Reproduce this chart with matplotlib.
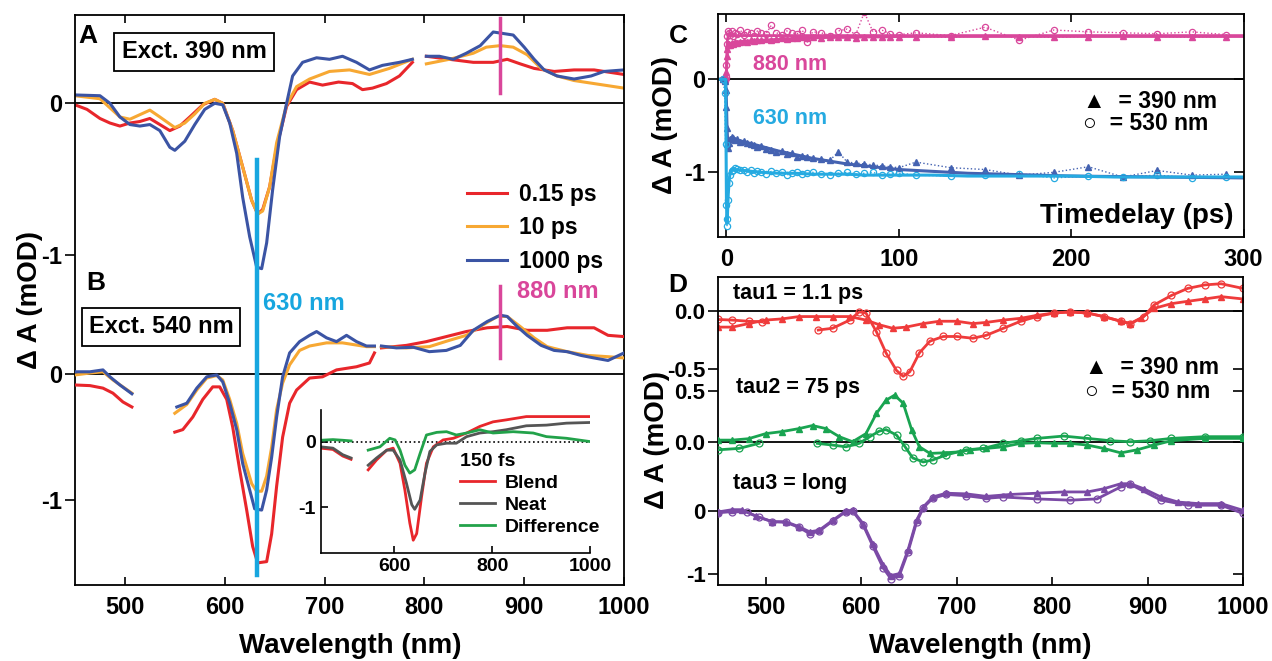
import numpy as np
import matplotlib.pyplot as plt

nan = np.nan

# ---------------- panel A: Exct. 390 nm ----------------
a_wl_red = [450, 462, 475, 485, 495, 505, 515, 525, 535, 545, 555, 565, 578, 590, 598, 608, 618, 627, 633, 638,
            645, 652, 662, 672, 685, 698, 714, 728, 738, 748, 762, 775, 788, nan, 802, 825, 849, 869, 883, 896,
            910, 930, 950, 970, 1000]
a_red = [-0.01, -0.04, -0.10, -0.13, -0.15, -0.13, -0.12, -0.10, -0.14, -0.18, -0.15, -0.09, -0.01, 0.026, 0.0,
         -0.18, -0.42, -0.64, -0.73, -0.70, -0.55, -0.29, -0.02, 0.09, 0.14, 0.12, 0.14, 0.13, 0.09, 0.10,
         0.13, 0.18, 0.27, nan, 0.31, 0.29, 0.27, 0.27, 0.29, 0.26, 0.23, 0.21, 0.22, 0.22, 0.19]
a_wl_orange = [450, 475, 495, 505, 525, 535, 550, 560, 570, 580, 590, 598, 608, 618, 627, 633, 638, 645, 652, 662,
               672, 685, 705, 725, 745, 765, 788, nan, 802, 825, 849, 862, 876, 889, 903, 917, 933, 950, 970, 1000]
a_orange = [0.05, 0.03, -0.09, -0.105, -0.045, -0.09, -0.16, -0.13, -0.07, 0.0, 0.026, 0.0, -0.18, -0.42, -0.64,
            -0.73, -0.71, -0.55, -0.26, -0.01, 0.11, 0.16, 0.21, 0.22, 0.19, 0.23, 0.29, nan, 0.26, 0.29,
            0.33, 0.37, 0.38, 0.37, 0.32, 0.23, 0.18, 0.15, 0.13, 0.10]
a_wl_blue = [450, 475, 485, 495, 505, 515, 525, 535, 545, 550, 560, 570, 580, 590, 598, 605, 612, 618, 625, 632,
             637, 642, 648, 655, 662, 668, 678, 692, 705, 718, 732, 745, 758, 775, 788, nan, 802, 815, 829, 842,
             856, 869, 879, 889, 900, 910, 920, 933, 950, 967, 980, 1000]
a_blue = [0.055, 0.05, 0.0, -0.09, -0.14, -0.15, -0.14, -0.18, -0.29, -0.31, -0.25, -0.14, -0.04, 0.0, -0.01,
          -0.13, -0.33, -0.62, -0.88, -1.08, -1.09, -0.92, -0.57, -0.22, 0.0, 0.18, 0.27, 0.30, 0.29, 0.31,
          0.27, 0.22, 0.25, 0.27, 0.29, nan, 0.31, 0.31, 0.29, 0.33, 0.38, 0.47, 0.46, 0.45, 0.37, 0.29,
          0.22, 0.18, 0.16, 0.18, 0.21, 0.22]

# ---------------- panel B: Exct. 540 nm ----------------
b_wl_red = [450, 465, 478, 488, 498, 507, nan, 550, 558, 568, 578, 588, 595, 602, 608, 615, 622, 628, 633, 642,
            647, 652, 658, 665, 672, 685, 698, 712, 732, 745, 750, nan, 757, 782, 802, 822, 842, 863, 883, 903,
            923, 943, 970, 984, 1000]
b_red = [-0.085, -0.09, -0.11, -0.15, -0.22, -0.26, nan, -0.46, -0.44, -0.34, -0.2, -0.1, -0.1, -0.2, -0.42,
         -0.76, -1.08, -1.37, -1.50, -1.49, -1.27, -0.89, -0.50, -0.23, -0.125, -0.03, -0.02, 0.035, 0.06,
         0.09, 0.17, nan, 0.21, 0.23, 0.26, 0.30, 0.34, 0.37, 0.38, 0.35, 0.35, 0.37, 0.37, 0.31, 0.30]
b_wl_orange = [450, 465, 478, 488, 507, nan, 550, 562, 572, 582, 592, 598, 605, 612, 618, 627, 632, 637, 642, 647,
               652, 658, 665, 675, 685, 702, 718, 742, 750, nan, 757, 782, 805, 825, 842, 856, 873, 883, 896, 910,
               923, 943, 964, 984, 1000]
b_orange = [-0.005, 0.01, 0.02, -0.045, -0.15, nan, -0.31, -0.24, -0.125, -0.03, -0.01, -0.045, -0.2, -0.39,
            -0.63, -0.87, -0.93, -0.93, -0.81, -0.58, -0.28, -0.07, 0.075, 0.19, 0.225, 0.25, 0.25, 0.22, 0.22,
            nan, 0.22, 0.21, 0.22, 0.27, 0.31, 0.38, 0.46, 0.46, 0.38, 0.29, 0.22, 0.18, 0.15, 0.14, 0.13]
b_wl_blue = [450, 465, 478, 485, 495, 507, nan, 552, 562, 572, 582, 592, 598, 605, 612, 618, 625, 630, 637, 642,
             647, 652, 658, 665, 675, 685, 692, 702, 712, 722, 732, 742, 750, nan, 757, 772, 789, 805, 822, 836,
             849, 863, 876, 883, 893, 903, 917, 930, 943, 957, 970, 984, 1000]
b_blue = [0.02, 0.02, 0.035, -0.02, -0.085, -0.155, nan, -0.26, -0.23, -0.11, -0.02, -0.005, -0.06, -0.23, -0.44,
          -0.71, -0.92, -1.07, -1.08, -0.92, -0.66, -0.34, -0.02, 0.17, 0.26, 0.31, 0.34, 0.29, 0.26, 0.31,
          0.26, 0.225, 0.225, nan, 0.225, 0.21, 0.215, 0.18, 0.19, 0.23, 0.35, 0.42, 0.47, 0.46, 0.38, 0.31,
          0.23, 0.19, 0.18, 0.15, 0.13, 0.11, 0.17]

# ---------------- inset: 150 fs ----------------
in_wl_blend = [450, 475, 495, 512, nan, 547, 564, 585, 598, 612, 622, 632, 639, 646, 656, 666, 680, 700, 721, 748,
               775, 802, 829, 870, 911, 952, 1000]
in_blend = [-0.10, -0.12, -0.22, -0.27, nan, -0.43, -0.28, -0.13, -0.10, -0.33, -0.74, -1.24, -1.50, -1.40,
            -0.84, -0.33, -0.08, 0.025, 0.05, 0.13, 0.23, 0.30, 0.33, 0.38, 0.38, 0.38, 0.38]
in_wl_neat = [450, 475, 495, 512, nan, 547, 564, 585, 598, 612, 625, 636, 642, 653, 663, 673, 687, 707, 727, 748,
              775, 802, 829, 870, 911, 952, 1000]
in_neat = [-0.08, -0.10, -0.20, -0.25, nan, -0.36, -0.25, -0.13, -0.13, -0.28, -0.63, -0.96, -1.03, -0.89,
           -0.48, -0.15, -0.05, -0.025, -0.025, 0.075, 0.13, 0.15, 0.18, 0.24, 0.25, 0.28, 0.29]
in_wl_diff = [450, 475, 495, 512, nan, 547, 571, 591, 602, 612, 622, 632, 642, 653, 666, 687, 707, 727, 748, 775,
              802, 843, 884, 911, 952, 1000]
in_diff = [0.02, 0.03, 0.02, 0.01, nan, -0.13, -0.08, 0.05, 0.025, -0.13, -0.36, -0.48, -0.43, -0.18, 0.10,
           0.14, 0.15, 0.10, 0.13, 0.18, 0.13, 0.15, 0.13, 0.075, 0.05, 0.0]

# ---------------- panel C: kinetics ----------------
t_c = [-2, -1, -0.5, 0, 0.3, 0.6, 1, 1.5, 2, 3, 4, 5, 6, 8, 10, 12, 14, 16, 18, 20,
       23, 26, 29, 32, 35, 38, 41, 44, 47, 50, 55, 60, 65, 70, 75, 80, 85, 90, 95, 100,
       110, 130, 150, 170, 190, 210, 230, 250, 270, 290]
c_880_390 = [0.0, 0.01, 0.03, 0.08, 0.25, 0.33, 0.37, 0.38, 0.37, 0.39, 0.38, 0.40, 0.39, 0.40, 0.41, 0.40,
             0.42, 0.41, 0.42, 0.42, 0.43, 0.42, 0.43, 0.44, 0.43, 0.44, 0.44, 0.45, 0.44, 0.45, 0.44, 0.45,
             0.46, 0.45, 0.44, 0.46, 0.45, 0.46, 0.45, 0.46, 0.46, 0.45, 0.47, 0.46, 0.45, 0.46, 0.47, 0.46,
             0.45, 0.46]
c_880_530 = [0.0, -0.02, 0.02, 0.15, 0.38, 0.47, 0.52, 0.50, 0.48, 0.52, 0.47, 0.50, 0.49, 0.53, 0.48, 0.51,
             0.50, 0.47, 0.52, 0.50, 0.49, 0.58, 0.50, 0.48, 0.52, 0.50, 0.49, 0.53, 0.40, 0.51, 0.50, 0.47,
             0.52, 0.54, 0.48, 0.72, 0.51, 0.53, 0.49, 0.48, 0.50, 0.47, 0.56, 0.42, 0.53, 0.51, 0.50, 0.49,
             0.51, 0.48]
c_630_390 = [0.0, -0.02, -0.12, -0.30, -0.52, -0.70, -0.74, -0.68, -0.64, -0.62, -0.63, -0.65, -0.64, -0.67,
             -0.66, -0.69, -0.70, -0.71, -0.73, -0.72, -0.75, -0.76, -0.78, -0.77, -0.80, -0.79, -0.83, -0.82,
             -0.84, -0.85, -0.86, -0.87, -0.78, -0.89, -0.90, -0.91, -0.92, -0.93, -0.94, -0.95, -0.89, -0.95,
             -0.97, -1.03, -1.00, -0.94, -1.05, -0.98, -1.03, -1.02]
c_630_530 = [0.0, -0.15, -0.70, -1.35, -1.58, -1.50, -1.30, -1.12, -1.03, -0.99, -0.97, -0.95, -0.96, -0.97,
             -0.98, -1.00, -0.98, -1.01, -0.99, -1.00, -1.02, -0.99, -1.01, -1.00, -1.03, -1.01, -1.00, -1.02,
             -1.01, -1.00, -1.02, -1.03, -1.01, -1.00, -1.02, -1.01, -1.00, -1.03, -1.02, -1.01, -1.03, -1.04,
             -1.03, -1.02, -1.06, -1.04, -1.05, -1.03, -1.06, -1.05]
t_fit = [-4.9, -0.5, 0, 0.3, 0.6, 1, 1.5, 2, 3, 5, 10, 20, 30, 40, 50, 60, 70, 80, 90, 100,
         120, 140, 160, 180, 200, 225, 250, 275, 300]
fit_880_390 = [0, 0, 0.05, 0.2, 0.3, 0.35, 0.37, 0.38, 0.39, 0.40, 0.41, 0.42, 0.43, 0.44, 0.445, 0.45, 0.45,
               0.455, 0.455, 0.46, 0.46, 0.46, 0.46, 0.46, 0.46, 0.46, 0.46, 0.46, 0.46]
fit_880_530 = [0, 0, 0.1, 0.33, 0.43, 0.46, 0.47, 0.47, 0.47, 0.47, 0.47, 0.47, 0.47, 0.47, 0.47, 0.47, 0.47,
               0.47, 0.47, 0.47, 0.47, 0.47, 0.47, 0.47, 0.47, 0.47, 0.47, 0.47, 0.47]
fit_630_390 = [0, 0, -0.25, -0.5, -0.63, -0.66, -0.65, -0.64, -0.64, -0.65, -0.67, -0.72, -0.77, -0.81, -0.85,
               -0.88, -0.91, -0.93, -0.95, -0.97, -0.99, -1.01, -1.02, -1.03, -1.04, -1.045, -1.05, -1.055, -1.06]
fit_630_530 = [0, 0, -1.3, -1.55, -1.45, -1.25, -1.1, -1.02, -0.98, -0.97, -0.98, -1.0, -1.01, -1.01, -1.02,
               -1.02, -1.02, -1.03, -1.03, -1.03, -1.03, -1.04, -1.04, -1.04, -1.04, -1.05, -1.05, -1.05, -1.05]

# ---------------- panel D: decay associated spectra ----------------
d1_wl_390 = [450, 465, 482, 500, 517, 535, 553, 570, 588, 605, 619, 633, 647, 665, 682, 700, 717, 731, 749, 767,
             784, 802, 819, 837, 854, 872, 882, 893, 907, 925, 942, 960, 977, 1000]
d1_390 = [-0.14, -0.14, -0.11, -0.08, -0.07, -0.05, -0.05, -0.05, -0.05, -0.08, -0.12, -0.15, -0.14, -0.11,
          -0.09, -0.09, -0.11, -0.10, -0.08, -0.065, -0.04, -0.02, -0.01, -0.02, -0.05, -0.09, -0.11, -0.065,
          0.02, 0.06, 0.08, 0.10, 0.12, 0.10]
d1_wl_530 = [450, 465, 482, 496, nan, 555, 570, 588, 598, 605, 616, 626, 637, 644, 651, 661, 672, 686, 700, 717,
             731, 749, 767, 784, 802, 819, 837, 854, 872, 882, 896, 907, 925, 942, 960, 977, 1000]
d1_530 = [-0.075, -0.08, -0.09, -0.095, nan, -0.165, -0.15, -0.08, -0.01, -0.02, -0.18, -0.36, -0.51, -0.56,
          -0.52, -0.36, -0.26, -0.22, -0.22, -0.235, -0.21, -0.15, -0.09, -0.05, -0.02, -0.01, -0.02, -0.05,
          -0.09, -0.11, -0.05, 0.05, 0.13, 0.19, 0.22, 0.23, 0.19]
d2_wl_390 = [450, 465, 482, 500, 517, 535, 549, 563, 577, 591, 605, 616, 626, 635, 644, 653, 661, 672, 686, 703,
             714, 731, 749, 767, 784, 802, 819, 837, 854, 872, 889, 907, 925, 960, 1000]
d2_390 = [0.016, 0.016, 0.03, 0.08, 0.10, 0.13, 0.16, 0.13, 0.05, 0.0, 0.08, 0.28, 0.41, 0.46, 0.38, 0.115,
          -0.05, -0.115, -0.11, -0.10, -0.08, -0.066, -0.05, -0.016, -0.01, -0.016, -0.016, -0.033, -0.066,
          -0.11, -0.08, -0.033, 0.01, 0.033, 0.033]
d2_wl_530 = [450, 472, 493, nan, 554, 570, 584, 598, 609, 619, 626, 637, 646, 654, 665, 675, 689, 710, 728, 749,
             767, 784, 812, 837, 861, 882, 903, 925, 960, 1000]
d2_530 = [-0.08, -0.066, -0.016, nan, -0.016, -0.033, -0.05, -0.016, 0.05, 0.105, 0.12, 0.066, -0.05, -0.16,
          -0.2, -0.18, -0.13, -0.08, -0.066, -0.016, 0.01, 0.033, 0.056, 0.033, 0.01, 0.0, 0.01, 0.033, 0.05, 0.05]
d3_wl_390 = [450, 465, 475, 490, 507, 521, 535, 546, 556, 570, 584, 591, 602, 612, 623, 631, 640, 649, 658, 665,
             675, 689, 710, 731, 756, 784, 812, 837, 854, 872, 882, 896, 914, 932, 953, 977, 1000]
d3_390 = [-0.016, 0.02, 0.02, -0.084, -0.17, -0.17, -0.25, -0.33, -0.305, -0.15, 0.0, 0.01, -0.2, -0.52, -0.85,
          -1.02, -0.99, -0.62, -0.15, 0.063, 0.22, 0.28, 0.27, 0.23, 0.26, 0.28, 0.30, 0.30, 0.35, 0.43, 0.43,
          0.35, 0.22, 0.14, 0.116, 0.116, 0.01]
d3_wl_530 = [450, 465, 480, 493, 507, 521, 535, 546, 556, 570, 584, 591, 602, 612, 623, 631, 640, 649, 658, 665,
             675, 689, 710, 731, 749, 784, 819, 847, 872, 882, 914, 942, 977, 1000]
d3_530 = [-0.03, -0.01, -0.02, -0.10, -0.17, -0.18, -0.26, -0.36, -0.32, -0.16, -0.01, 0.0, -0.22, -0.55, -0.90,
          -1.07, -1.02, -0.65, -0.18, 0.05, 0.20, 0.26, 0.24, 0.20, 0.22, 0.19, 0.17, 0.19, 0.38, 0.42, 0.17,
          0.09, 0.09, -0.04]

RED, ORANGE, BLUE = '#e8262b', '#f7a833', '#3b54a4'
CYAN, MAGENTA = '#17a6df', '#d9469a'
GREY, GREEN = '#555555', '#22a24a'
C_PINK, C_DBLUE, C_LBLUE = '#d9479b', '#4462b1', '#25aae1'
D_RED, D_GREEN, D_PURPLE = '#ef3b3b', '#19a451', '#7b4aa6'

plt.rcParams['font.family'] = ['Liberation Sans', 'DejaVu Sans']
plt.rcParams['font.weight'] = 'bold'
plt.rcParams['axes.unicode_minus'] = False

W, H = 1272, 661
fig = plt.figure(figsize=(W / 100, H / 100), dpi=100)


def rect(l, t, r, b):
    return [l / W, 1 - b / H, (r - l) / W, (b - t) / H]


def ftext(x, y, s, **kw):
    kw.setdefault('va', 'center')
    fig.text(x / W, 1 - y / H, s, **kw)


def yticks(ax, ticks, labels, right=False, size=17):
    ax.set_yticks(ticks, labels)
    ax.tick_params(axis='y', direction='out', length=7, width=1.2, labelsize=size, pad=2)
    if right:
        sec = ax.secondary_yaxis('right')
        sec.set_yticks(ticks)
        sec.tick_params(direction='in', length=7, width=1.2, labelright=False)
        for s in sec.spines.values():
            s.set_visible(False)


def frame(r, xlim, ylim, xt, top=True):
    ax = fig.add_axes(r)
    for s in ax.spines.values():
        s.set_linewidth(1.3)
    ax.set_xlim(*xlim)
    ax.set_ylim(*ylim)
    ax.set_xticks(xt)
    ax.tick_params(axis='x', direction='in', length=6, width=1.2, labelsize=17, pad=8, top=top)
    ax.axhline(0, color='k', lw=1.3, zorder=1)
    return ax


def overlay(r, xlim, ylim):
    ax = fig.add_axes(r)
    ax.patch.set_visible(False)
    for s in ax.spines.values():
        s.set_visible(False)
    ax.set_xlim(*xlim)
    ax.set_ylim(*ylim)
    ax.set_xticks([])
    ax.axhline(0, color='k', lw=1.3, zorder=1)
    return ax


# ----- left panel (A + B) -----
LEFT = rect(75, 15, 624, 585)
WL = (450, 1000)
ax_a = frame(LEFT, WL, (-3.175, 0.582), [500, 600, 700, 800, 900, 1000])
yticks(ax_a, [0, -1], ['0', '-1'])
la, = ax_a.plot(a_wl_red, a_red, color=RED, lw=2.2, label='0.15 ps')
lb, = ax_a.plot(a_wl_orange, a_orange, color=ORANGE, lw=2.2, label='10 ps')
lc, = ax_a.plot(a_wl_blue, a_blue, color=BLUE, lw=2.2, label='1000 ps')
ax_a.plot([876, 876], [0.07, 0.56], color=MAGENTA, lw=2.5)
ax_a.legend(handles=[la, lb, lc], loc='upper left', bbox_to_anchor=(467 / W, 1 - 183 / H),
            bbox_transform=fig.transFigure, frameon=False, fontsize=16.5, handlelength=1.75,
            handletextpad=0.5, borderpad=0, borderaxespad=0, labelspacing=0.45)

ax_b = overlay(LEFT, WL, (-1.676, 2.858))
yticks(ax_b, [0, -1], ['0', '-1'])
ax_b.plot(b_wl_red, b_red, color=RED, lw=2.2)
ax_b.plot(b_wl_orange, b_orange, color=ORANGE, lw=2.2)
ax_b.plot(b_wl_blue, b_blue, color=BLUE, lw=2.2)
ax_b.plot([632, 632], [-1.597, 1.705], color=CYAN, lw=3.2)
ax_b.plot([876, 876], [0.13, 0.70], color=MAGENTA, lw=2.5)

box = dict(boxstyle='square,pad=0.3', fc='white', ec='black', lw=1.3)
ftext(194, 52, 'Exct. 390 nm', ha='center', fontsize=17, bbox=box)
ftext(161, 327, 'Exct. 540 nm', ha='center', fontsize=17, bbox=box)
ftext(88, 36, 'A', ha='center', fontsize=19)
ftext(96, 283, 'B', ha='center', fontsize=19)
ftext(263, 303, '630 nm', ha='left', fontsize=17, color=CYAN)
ftext(517, 291, '880 nm', ha='left', fontsize=17, color=MAGENTA)
ftext(350, 646, 'Wavelength (nm)', ha='center', fontsize=20)
ftext(30, 300, 'Δ A (mOD)', ha='center', fontsize=20, rotation=90)

# inset
ax_in = fig.add_axes(rect(320.7, 410, 590, 552.7))
ax_in.patch.set_visible(False)
ax_in.spines['top'].set_visible(False)
ax_in.spines['right'].set_visible(False)
for s in ('left', 'bottom'):
    ax_in.spines[s].set_linewidth(1.2)
ax_in.set_xlim(450, 1000)
ax_in.set_ylim(-1.69, 0.48)
ax_in.set_xticks([600, 800, 1000])
ax_in.set_yticks([0, -1], ['0', '-1'])
ax_in.tick_params(direction='in', length=5, width=1.2, labelsize=14)
ax_in.axhline(0, color='k', lw=1.2, ls=':', zorder=1)
i1, = ax_in.plot(in_wl_blend, in_blend, color=RED, lw=2, label='Blend')
i2, = ax_in.plot(in_wl_neat, in_neat, color=GREY, lw=2, label='Neat')
i3, = ax_in.plot(in_wl_diff, in_diff, color=GREEN, lw=2, label='Difference')
ax_in.legend(handles=[i1, i2, i3], title='150 fs', alignment='left', loc='upper left',
             bbox_to_anchor=(460 / W, 1 - 453 / H), bbox_transform=fig.transFigure, frameon=False,
             fontsize=14, title_fontsize=14, handlelength=1.8, handletextpad=0.5, borderpad=0,
             borderaxespad=0, labelspacing=0.22)

# ----- panel C -----
ax_c = frame(rect(718, 14, 1243.5, 236.7), (-4.9, 300), (-1.692, 0.702), [0, 100, 200, 300])
yticks(ax_c, [0, -1], ['0', '-1'], right=True)
ax_c.plot(t_c, c_880_530, ls=':', lw=1, color=C_PINK, marker='o', ms=4.5, mfc='none', mew=0.9)
ax_c.plot(t_c, c_880_390, ls=':', lw=1, color=C_PINK, marker='^', ms=4)
ax_c.plot(t_c, c_630_390, ls=':', lw=1, color=C_DBLUE, marker='^', ms=4)
ax_c.plot(t_c, c_630_530, ls=':', lw=1, color=C_LBLUE, marker='o', ms=4.5, mfc='none', mew=0.9)
ax_c.plot(t_fit, fit_880_530, color=C_PINK, lw=2)
ax_c.plot(t_fit, fit_880_390, color=C_PINK, lw=2)
ax_c.plot(t_fit, fit_630_390, color=C_DBLUE, lw=2.2)
ax_c.plot(t_fit, fit_630_530, color=C_LBLUE, lw=2.2)
ftext(753, 65, '880 nm', ha='left', fontsize=15.5, color=C_PINK)
ftext(753, 118, '630 nm', ha='left', fontsize=15.5, color=C_LBLUE)
ftext(1083, 101, '▲  = 390 nm', ha='left', fontsize=16.5)
ftext(1083, 124, '○  = 530 nm', ha='left', fontsize=16.5)
ftext(1233, 216, 'Timedelay (ps)', ha='right', fontsize=20)
ftext(678, 36, 'C', ha='center', fontsize=19)
ftext(665, 125, 'Δ A (mOD)', ha='center', fontsize=20, rotation=90)

# ----- panel D -----
RD = rect(718, 276.7, 1243, 585)
ax_d1 = frame(RD, WL, (-2.34, 0.29), [500, 600, 700, 800, 900, 1000], top=False)
yticks(ax_d1, [0, -0.5], ['0.0', '-0.5'], right=True, size=16)
ax_d2 = overlay(RD, WL, (-1.415, 1.63))
yticks(ax_d2, [0.5, 0], ['0.5', '0.0'], right=True, size=16)
ax_d3 = overlay(RD, WL, (-1.17, 3.70))
yticks(ax_d3, [0, -1], ['0', '-1'], right=True, size=16)
for ax, wl390, v390, wl530, v530, col in [
        (ax_d1, d1_wl_390, d1_390, d1_wl_530, d1_530, D_RED),
        (ax_d2, d2_wl_390, d2_390, d2_wl_530, d2_530, D_GREEN),
        (ax_d3, d3_wl_390, d3_390, d3_wl_530, d3_530, D_PURPLE)]:
    ax.plot(wl390, v390, color=col, lw=2, marker='^', ms=5)
    ax.plot(wl530, v530, color=col, lw=2, marker='o', ms=5, mfc='none', mew=0.9)
ftext(733, 294, 'tau1 = 1.1 ps', ha='left', fontsize=15.5)
ftext(736, 388, 'tau2 = 75 ps', ha='left', fontsize=15.5)
ftext(733, 483, 'tau3 = long', ha='left', fontsize=15.5)
ftext(1085, 367, '▲  = 390 nm', ha='left', fontsize=16.5)
ftext(1085, 392, '○  = 530 nm', ha='left', fontsize=16.5)
ftext(678, 285, 'D', ha='center', fontsize=19)
ftext(657, 440, 'Δ A (mOD)', ha='center', fontsize=20, rotation=90)
ftext(980, 646, 'Wavelength (nm)', ha='center', fontsize=20)

fig.savefig('out.png', dpi=100)
